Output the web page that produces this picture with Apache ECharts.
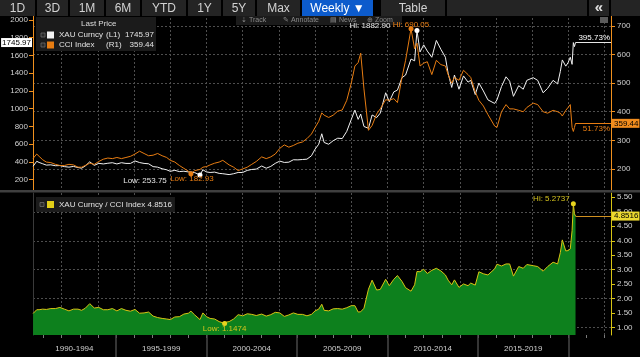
<!DOCTYPE html>
<html><head><meta charset="utf-8">
<script src="https://cdn.jsdelivr.net/npm/echarts@6/dist/echarts.min.js"></script>
<style>html,body{margin:0;padding:0;background:#000;}#c{width:640px;height:357px;}</style>
</head><body><div id="c"></div>
<script>
// ---------- data ----------
const dates = [
1990.42,1990.50,1990.62,1990.75,1990.95,1991.15,1991.40,1991.65,1991.90,1992.15,
1992.40,1992.65,1992.90,1993.10,1993.30,1993.55,1993.80,1994.05,1994.30,1994.55,
1994.80,1995.05,1995.30,1995.55,1995.80,1996.05,1996.30,1996.55,1996.80,1997.05,
1997.30,1997.55,1997.80,1998.00,1998.25,1998.50,1998.75,1999.00,1999.14,1999.35,
1999.64,1999.80,2000.00,2000.20,2000.45,2000.70,2000.90,2001.00,2001.25,2001.50,
2001.75,2002.00,2002.25,2002.50,2002.75,2003.05,2003.30,2003.55,2003.80,2004.05,
2004.30,2004.55,2004.80,2005.05,2005.30,2005.55,2005.80,2006.00,2006.20,2006.37,
2006.50,2006.75,2007.00,2007.25,2007.50,2007.75,2008.00,2008.20,2008.38,2008.52,
2008.70,2008.95,2009.15,2009.40,2009.60,2009.90,2010.10,2010.35,2010.55,2010.80,
2011.00,2011.30,2011.50,2011.63,2011.80,2012.00,2012.20,2012.45,2012.70,2012.95,
2013.20,2013.35,2013.55,2013.70,2013.95,2014.20,2014.45,2014.60,2014.85,2015.05,
2015.30,2015.55,2015.92,2016.05,2016.30,2016.55,2016.75,2016.96,2017.25,2017.50,
2017.70,2018.05,2018.30,2018.60,2018.85,2019.15,2019.40,2019.55,2019.66,2019.85,
2019.98,2020.10,2020.20,2020.27,2020.33,2020.39];
const xauValues = [
352.2,365,408,395,380,365,368,358,360,348,
342,350,338,330,355,402,362,385,378,386,
392,378,392,384,384,412,394,384,380,348,
342,324,312,295,306,292,296,288,288,280,
253.75,312,288,282,286,272,268,264.10,258,268,
282,282,305,316,320,355,330,350,385,410,
395,398,425,424,428,432,470,545,600,718,
620,600,640,668,664,745,880,985,880,940,
800,780,930,900,950,1180,1080,1190,1210,1350,
1380,1560,1540,1882.90,1640,1720,1650,1580,1770,1670,
1580,1400,1240,1380,1220,1370,1300,1320,1160,1290,
1200,1100,1060,1100,1250,1360,1310,1140,1260,1220,
1320,1350,1320,1180,1230,1320,1280,1420,1550,1480,
1520,1580,1500,1745.60,1700,1745.97];
const cciValues = [
236.9,238,252,244,232,224,222,216,212,212,
216,214,206,206,212,220,216,226,234,238,
236,240,236,240,244,252,262,254,246,248,
254,246,240,230,224,212,202,192,182.93,194,
198,206,208,214,220,224,230,230.17,214,206,
194,200,206,216,226,242,236,242,252,272,
284,276,282,290,294,306,322,345,366,396,
388,380,388,402,406,440,500,560,572,605,
480,335,352,392,410,442,440,446,432,520,
580,690.05,620,640,560,570,575,530,580,565,
560,530,500,520,510,545,530,520,470,440,
420,390,350,345,400,425,410,410,405,400,
415,430,425,400,395,405,400,395,385,405,
415,425,345,331.00,345,359.44];
const ratioValues = [
1.49,1.53,1.62,1.62,1.64,1.63,1.66,1.66,1.70,1.64,
1.58,1.64,1.64,1.60,1.67,1.83,1.68,1.70,1.62,1.62,
1.66,1.58,1.66,1.60,1.57,1.63,1.50,1.51,1.54,1.40,
1.35,1.32,1.30,1.28,1.37,1.38,1.47,1.50,1.57,1.44,
1.28,1.51,1.38,1.32,1.30,1.21,1.17,1.1474,1.21,1.30,
1.45,1.41,1.48,1.46,1.42,1.47,1.40,1.45,1.53,1.51,
1.39,1.44,1.51,1.46,1.46,1.41,1.46,1.58,1.64,1.81,
1.60,1.58,1.65,1.66,1.64,1.69,1.76,1.76,1.54,1.55,
1.67,2.33,2.64,2.30,2.32,2.67,2.45,2.67,2.80,2.60,
2.38,2.26,2.48,2.94,2.93,3.02,2.87,2.98,3.05,2.96,
2.82,2.64,2.48,2.65,2.39,2.51,2.45,2.54,2.47,2.93,
2.86,2.82,3.03,3.19,3.13,3.20,3.20,2.78,3.11,3.05,
3.18,3.14,3.11,2.95,3.11,3.26,3.20,3.59,4.03,3.65,
3.66,3.72,4.35,5.2737,4.93,4.8516];

const leftTicks = [200,400,600,800,1000,1200,1400,1600,1800,2000];
const rightTicks = [200,300,400,500,600,700];
const ratioTicks = [1.0,1.5,2.0,2.5,3.0,3.5,4.0,4.5,5.0,5.5];
const ratioGridTicks = [1,2,3,4,5];
const gridYears = [1992,1994,1996,1998,2000,2002,2004,2006,2008,2010,2012,2014,2016,2018,2020,2022];
const yearTicks = [1991,1992,1993,1994,1995,1996,1997,1998,1999,2000,2001,2002,2003,2004,2005,2006,2007,2008,2009,2010,2011,2012,2013,2014,2015,2016,2017,2018,2019,2020,2021,2022];
const periodBreaks = [1995,2000,2005,2010,2015,2020];
const periodLabelPos = [1992.7,1997.5,2002.5,2007.5,2012.5,2017.5];
const periodLabels = ['1990-1994','1995-1999','2000-2004','2005-2009','2010-2014','2015-2019'];
const toolbarLabels = ['1D','3D','1M','6M','YTD','1Y','5Y','Max','Weekly \u25BC','Table'];
const stripLabels = ['\u21E3 Track','\u270E Annotate','\u25A4 News','\u2295 Zoom'];
const xauPct = '395.73%';
const cciPct = '51.73%';

// ---------- layout / style ----------
const X_MIN = 1990.414, X_MAX = 2022.35;
const L_MIN = 84.5, L_MAX = 2067.6;
const R_MIN = 126.2, R_MAX = 742.0;
const Q_MIN = 0.748, Q_MAX = 5.648;
const FONT = '"Liberation Sans",Arial,sans-serif';
const FS = 8;
const WHITE = '#f2f2f2', ORANGE = '#e87d12', ORANGE_AX = '#f0901e', YEL = '#d8c414', GREEN = '#0d801d';
const GRIDC = '#4e4e4e', LBL = '#d0d0d0';
const CLEAR = 'rgba(0,0,0,0)';

const lastDate = dates[dates.length - 1];
const lastXau = xauValues[xauValues.length - 1];
const lastCci = cciValues[cciValues.length - 1];
const lastRatio = ratioValues[ratioValues.length - 1];

const pairs = arr => arr.map((v, i) => [dates[i], v]);
const dotted = {show: true, lineStyle: {color: GRIDC, type: [2, 2], width: 1}};

// ---------- graphic chrome (toolbar etc.) ----------
const toolbarEdges = [[0,35],[37,68],[70,104],[106,140],[142,186],[188,221],[223,255],[257,300],[302,373],[381,445]];
const els = [];
els.push({type:'rect', shape:{x:0,y:0,width:640,height:16}, style:{fill:'#000'}, z:100});
toolbarLabels.forEach((t, i) => {
  const [a, b] = toolbarEdges[i];
  const active = i === 8;
  els.push({type:'rect', shape:{x:a,y:0,width:b-a,height:16}, style:{fill: active ? '#0c5bcc' : '#242424'}, z:101});
  els.push({type:'text', style:{text:t, x:(a+b)/2, y:8.5, fill: active ? '#ffffff' : '#d2d2d2', fontSize:12, fontFamily:FONT, align:'center', verticalAlign:'middle'}, z:102});
});
els.push({type:'rect', shape:{x:447,y:0,width:140,height:16}, style:{fill:'#242424'}, z:101});
els.push({type:'rect', shape:{x:589,y:0,width:20,height:16}, style:{fill:'#242424'}, z:101});
els.push({type:'text', style:{text:'\u00AB', x:599, y:7.5, fill:'#e0e0e0', fontSize:15, fontWeight:'bold', fontFamily:FONT, align:'center', verticalAlign:'middle'}, z:102});
els.push({type:'rect', shape:{x:611,y:0,width:29,height:16}, style:{fill:'#242424'}, z:101});
// track strip
els.push({type:'rect', shape:{x:236,y:16,width:166,height:9}, style:{fill:'#1b1b1b'}, z:1});
const stripX = [241, 283, 330, 367];
stripLabels.forEach((t, i) => {
  els.push({type:'text', style:{text:t, x:stripX[i], y:20.5, fill:'#8a8a8a', fontSize:7, fontFamily:FONT, align:'left', verticalAlign:'middle'}, z:1});
});
els.push({type:'rect', shape:{x:600,y:17,width:8,height:6}, style:{fill:'#5a5a5a'}, z:1});
// panel separator
els.push({type:'rect', shape:{x:0,y:190,width:640,height:2.5}, style:{fill:'#3f3f3f'}, z:5});
// legend mini icons
[[41,33],[41,43],[40,202.5]].forEach(([x,y]) => {
  els.push({type:'rect', shape:{x:x,y:y,width:4,height:4}, style:{fill:'#2a2a2a', stroke:'#6a6a6a', lineWidth:0.8}, z:20});
});

const richBase = {color: '#e2e2e2', fontSize: FS, fontFamily: FONT, lineHeight: 10};
const option = {
  backgroundColor: '#000',
  animation: false,
  textStyle: {fontFamily: FONT},
  title: {text: 'Last Price', left: 81, top: 20, padding: 0,
    textStyle: {color: '#dedede', fontSize: FS, fontWeight: 'normal', fontFamily: FONT}},
  legend: [
    {data: ['XAU Curncy', 'CCI Index'], orient: 'vertical', left: 36, top: 17,
     padding: [13, 2, 1, 11], itemWidth: 7, itemHeight: 7, itemGap: 0, icon: 'rect',
     backgroundColor: '#1b1b1b', selectedMode: false,
     formatter: name => name === 'XAU Curncy'
        ? '{n|XAU Curncy}{t|(L1)}{v|' + lastXau.toFixed(2) + '}'
        : '{n|CCI Index}{t|(R1)}{v|' + lastCci.toFixed(2) + '}',
     textStyle: Object.assign({}, richBase, {
       rich: {
         n: Object.assign({width: 47}, richBase),
         t: Object.assign({width: 18}, richBase),
         v: Object.assign({width: 30, align: 'right'}, richBase)
       }})},
    {data: ['XAU Curncy / CCI Index'], orient: 'vertical', left: 36, top: 197,
     padding: [3, 3, 3, 11], itemWidth: 7, itemHeight: 7, itemGap: 0, icon: 'rect',
     backgroundColor: '#1b1b1b', selectedMode: false,
     formatter: name => name + ' ' + lastRatio.toFixed(4),
     textStyle: {color: '#e2e2e2', fontSize: FS, fontFamily: FONT, lineHeight: 9}}
  ],
  grid: [
    {left: 33, right: 29, top: 14, height: 176, outerBoundsMode: 'none', containLabel: false},
    {left: 33, right: 29, top: 193, height: 142, outerBoundsMode: 'none', containLabel: false},
    {left: 33, right: 29, top: 193, height: 142, outerBoundsMode: 'none', containLabel: false}
  ],
  xAxis: [
    {gridIndex: 0, type: 'value', min: X_MIN, max: X_MAX,
     axisLine: {show: false, onZero: false}, axisLabel: {show: false},
     axisTick: {show: false, customValues: gridYears}, splitLine: dotted},
    {gridIndex: 1, type: 'value', position: 'bottom', min: X_MIN, max: X_MAX,
     axisLine: {show: false, onZero: false}, axisLabel: {show: false},
     axisTick: {show: true, customValues: yearTicks, length: 3, lineStyle: {color: '#7a7a7a'}},
     splitLine: {show: false}},
    {gridIndex: 1, type: 'value', position: 'top', min: X_MIN, max: X_MAX,
     axisLine: {show: false, onZero: false}, axisLabel: {show: false},
     axisTick: {show: false, customValues: gridYears}, splitLine: dotted},
    {gridIndex: 2, type: 'value', position: 'bottom', min: X_MIN, max: X_MAX,
     axisLine: {show: false, onZero: false},
     axisTick: {show: true, customValues: periodBreaks, length: 22, lineStyle: {color: '#474747', width: 1.5}},
     axisLabel: {show: true, customValues: periodLabelPos, margin: 10, color: LBL, fontSize: FS, fontFamily: FONT,
       formatter: v => periodLabels[periodLabelPos.indexOf(v)] || ''},
     splitLine: {show: false}}
  ],
  yAxis: [
    {gridIndex: 0, type: 'value', position: 'left', min: L_MIN, max: L_MAX,
     axisLine: {show: true, onZero: false, lineStyle: {color: ORANGE_AX, width: 1}},
     axisTick: {show: true, customValues: leftTicks, length: 4, lineStyle: {color: ORANGE_AX}},
     axisLabel: {show: true, customValues: leftTicks, color: LBL, fontSize: FS, fontFamily: FONT, margin: 5,
       formatter: v => String(v)},
     splitLine: {show: false}},
    {gridIndex: 0, type: 'value', position: 'right', min: R_MIN, max: R_MAX,
     axisLine: {show: true, onZero: false, lineStyle: {color: ORANGE_AX, width: 1}},
     axisTick: {show: true, customValues: rightTicks, length: 4, lineStyle: {color: ORANGE_AX}},
     axisLabel: {show: true, customValues: rightTicks, color: LBL, fontSize: FS, fontFamily: FONT, margin: 6,
       formatter: v => String(v)},
     splitLine: dotted},
    {gridIndex: 1, type: 'value', position: 'right', min: Q_MIN, max: Q_MAX,
     axisLine: {show: true, onZero: false, lineStyle: {color: YEL, width: 1}},
     axisTick: {show: true, customValues: ratioTicks, length: 4, lineStyle: {color: YEL}},
     axisLabel: {show: true, customValues: ratioTicks, color: LBL, fontSize: FS, fontFamily: FONT, margin: 6,
       formatter: v => v.toFixed(2)},
     splitLine: {show: false}},
    {gridIndex: 1, type: 'value', position: 'left', min: Q_MIN, max: Q_MAX,
     axisLine: {show: true, onZero: false, lineStyle: {color: '#3a3a3a', width: 1}},
     axisTick: {show: false, customValues: ratioGridTicks}, axisLabel: {show: false},
     splitLine: dotted},
    {gridIndex: 2, type: 'value', show: false, min: 0, max: 1}
  ],
  series: [
    {name: 'XAU Curncy', type: 'line', xAxisIndex: 0, yAxisIndex: 0, data: pairs(xauValues),
     color: WHITE, showSymbol: false, clip: false, lineStyle: {color: WHITE, width: 1}, z: 3,
     markPoint: {symbol: 'circle', symbolSize: 5, silent: true, animation: false,
       itemStyle: {color: '#ffffff'},
       label: {show: true, color: '#e6e6e6', fontSize: FS, fontFamily: FONT},
       data: [
         {type: 'max', label: {position: 'top', distance: 0, offset: [-47, 2], formatter: p => 'Hi: ' + p.value.toFixed(2)}},
         {type: 'min', label: {position: 'bottom', distance: 0, offset: [-55, -1], formatter: p => 'Low: ' + p.value.toFixed(2)}}
       ]},
     markLine: {silent: true, symbol: 'none', animation: false,
       data: [
         [{coord: [lastDate, lastXau], lineStyle: {color: '#e6e6e6', width: 1, type: 'solid'},
           label: {show: true, position: 'insideEndTop', distance: 1, formatter: xauPct, color: '#ffffff', fontSize: FS, fontFamily: FONT}},
          {coord: [X_MAX, lastXau]}],
         [{coord: [X_MIN, lastXau], lineStyle: {color: CLEAR, width: 1, type: 'solid'},
           label: {show: true, position: 'start', distance: 1, formatter: lastXau.toFixed(2), color: '#000', backgroundColor: '#ffffff',
             padding: [1, 1, 0, 1], fontSize: FS, fontFamily: FONT}},
          {coord: [X_MAX, lastXau]}]
       ]}},
    {name: 'CCI Index', type: 'line', xAxisIndex: 0, yAxisIndex: 1, data: pairs(cciValues),
     color: ORANGE, showSymbol: false, clip: false, lineStyle: {color: ORANGE, width: 1}, z: 4,
     markPoint: {symbol: 'circle', symbolSize: 5, silent: true, animation: false,
       itemStyle: {color: ORANGE},
       label: {show: true, color: ORANGE, fontSize: FS, fontFamily: FONT},
       data: [
         {type: 'max', label: {position: 'top', distance: 0, offset: [0, 2], formatter: p => 'Hi: ' + p.value.toFixed(2)}},
         {type: 'min', label: {position: 'bottom', distance: 0, offset: [1, -1], formatter: p => 'Low: ' + p.value.toFixed(2)}}
       ]},
     markLine: {silent: true, symbol: 'none', animation: false,
       data: [
         [{coord: [lastDate, lastCci], lineStyle: {color: ORANGE, width: 1, type: 'solid'},
           label: {show: true, position: 'insideEndBottom', distance: 1, formatter: cciPct, color: ORANGE, fontSize: FS, fontFamily: FONT}},
          {coord: [X_MAX, lastCci]}],
         [{coord: [lastDate, lastCci], lineStyle: {color: CLEAR, width: 1, type: 'solid'},
           label: {show: true, position: 'end', distance: 1, formatter: lastCci.toFixed(2), color: '#000', backgroundColor: '#f08c1e',
             padding: [1, 1, 0, 2], fontSize: FS, fontFamily: FONT}},
          {coord: [X_MAX, lastCci]}]
       ]}},
    {name: 'XAU Curncy / CCI Index', type: 'line', xAxisIndex: 1, yAxisIndex: 2, data: pairs(ratioValues),
     color: '#e2ce18', showSymbol: false, clip: false, lineStyle: {color: YEL, width: 1},
     areaStyle: {color: GREEN, opacity: 1, origin: 'start'}, z: 3,
     markPoint: {symbol: 'circle', symbolSize: 5, silent: true, animation: false,
       itemStyle: {color: '#e8d41e'},
       label: {show: true, color: '#d6c41e', fontSize: FS, fontFamily: FONT},
       data: [
         {type: 'max', label: {position: 'top', distance: 0, offset: [-22, 1], formatter: p => 'Hi: ' + p.value.toFixed(4)}},
         {type: 'min', label: {position: 'bottom', distance: 0, offset: [0, -1], formatter: p => 'Low: ' + p.value.toFixed(4)}}
       ]},
     markLine: {silent: true, symbol: 'none', animation: false,
       data: [
         [{coord: [lastDate, lastRatio], lineStyle: {color: '#d09020', width: 1, type: 'solid'},
           label: {show: true, position: 'end', distance: 1, formatter: lastRatio.toFixed(4), color: '#000', backgroundColor: '#ecd830',
             padding: [1, 1, 0, 2], fontSize: FS, fontFamily: FONT}},
          {coord: [X_MAX, lastRatio]}]
       ]}}
  ],
  graphic: {elements: els}
};
const chart = echarts.init(document.getElementById('c'), null, {renderer: 'canvas', width: 640, height: 357});
chart.setOption(option);
</script>
</body></html>
